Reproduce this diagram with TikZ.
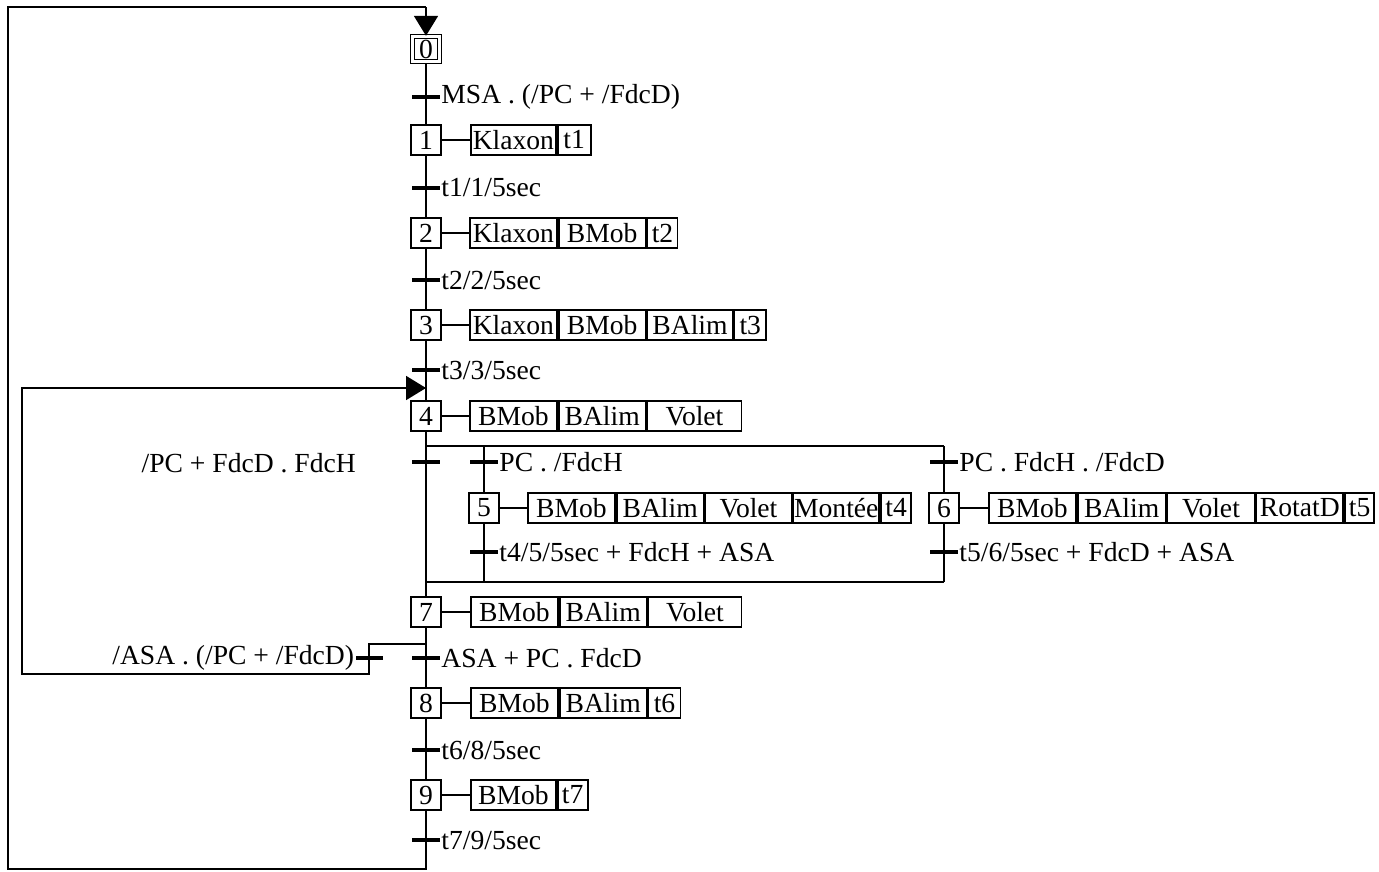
\documentclass[tikz,border=0pt]{standalone}
\usepackage{fontspec}
\setmainfont{Liberation Serif}
\usetikzlibrary{arrows.meta}
\begin{document}
\begin{tikzpicture}[x=1pt,y=-1pt,
  every node/.style={font=\fontsize{27.6}{32}\selectfont},
  ln/.style={line width=1.9pt},
  stepbox/.style={draw, line width=1.8pt, minimum width=30pt, minimum height=30pt, inner sep=0pt, fill=white},
  act/.style={draw, line width=1.8pt, minimum height=30pt, inner sep=0pt, anchor=west},
  bar/.style={fill=black, minimum width=28pt, minimum height=4.5pt, inner sep=0pt},
  lbl/.style={anchor=west, inner sep=1pt},
  lbll/.style={anchor=east, inner sep=1pt},
  arr/.style={-{Triangle[length=20pt,width=24pt]}}]
\useasboundingbox (0,0) rectangle (1379,871);

% coordinates
\coordinate (o1) at (426,869);
\coordinate (o2) at (8,869);
\coordinate (o3) at (8,7);
\coordinate (o4) at (426,7);
\coordinate (d4) at (426,446);
\coordinate (d5) at (484,446);
\coordinate (d6) at (944,446);
\coordinate (c4) at (426,582);
\coordinate (c5) at (484,582);
\coordinate (c6) at (944,582);
\coordinate (r1) at (426,644);
\coordinate (r2) at (369,644);
\coordinate (r3) at (369,674);
\coordinate (r4) at (22,674);
\coordinate (r5) at (22,388);
\coordinate (r6) at (426,388);

% connectors (drawn first, steps on top)
\draw[ln] (426,49) -- (426,140);
\draw[ln] (426,140) -- (426,233);
\draw[ln] (426,233) -- (426,325);
\draw[ln] (426,325) -- (426,416);
\draw[ln] (426,416) -- (426,612);
\draw[ln] (426,612) -- (426,703);
\draw[ln] (426,703) -- (426,795);
\draw[ln] (426,795) -- (o1) -- (o2) -- (o3) -- (o4);
\draw[ln] (d4) -- (d6);
\draw[ln] (d5) -- (c5);
\draw[ln] (d6) -- (c6);
\draw[ln] (c4) -- (c6);
\draw[ln] (r1) -- (r2) -- (r3) -- (r4) -- (r5) -- (r6);

% steps
\node[stepbox, double, double distance=2.5pt, line width=1.4pt, minimum width=27pt, minimum height=25pt] (s0) at (426,49) {0};
\node[stepbox] (s1) at (426,140) {1};
\node[stepbox] (s2) at (426,233) {2};
\node[stepbox] (s3) at (426,325) {3};
\node[stepbox] (s4) at (426,416) {4};
\node[stepbox] (s5) at (484,508) {5};
\node[stepbox] (s6) at (944,508) {6};
\node[stepbox] (s7) at (426,612) {7};
\node[stepbox] (s8) at (426,703) {8};
\node[stepbox] (s9) at (426,795) {9};

% arrows into steps
\draw[ln, arr] (o4) -- (s0.north);
\draw[ln, arr] (r5) -- (r6);

% transitions
\node[bar] (b1) at (426,97) {};
\node[lbl] (l1) at (b1.east) {MSA . (/PC + /FdcD)};
\node[bar] (b2) at (426,188) {};
\node[lbl] (l2) at (b2.east) {t1/1/5sec};
\node[bar] (b3) at (426,280) {};
\node[lbl] (l3) at (b3.east) {t2/2/5sec};
\node[bar] (b4) at (426,370) {};
\node[lbl] (l4) at (b4.east) {t3/3/5sec};
\node[bar] (b5) at (426,462) {};
\node[lbll] (l5) at (357,463) {/PC + FdcD . FdcH};
\node[bar] (b6) at (484,462) {};
\node[lbl] (l6) at (b6.east) {PC . /FdcH};
\node[bar] (b7) at (944,462) {};
\node[lbl] (l7) at (b7.east) {PC . FdcH . /FdcD};
\node[bar] (b8) at (484,552) {};
\node[lbl] (l8) at (b8.east) {t4/5/5sec + FdcH + ASA};
\node[bar] (b9) at (944,552) {};
\node[lbl] (l9) at (b9.east) {t5/6/5sec + FdcD + ASA};
\node[bar] (b10) at (426,658) {};
\node[lbl] (l10) at (b10.east) {ASA + PC . FdcD};
\node[bar, minimum width=27pt] (b11) at (369,658) {};
\node[lbll] (l11) at (b11.west) {/ASA . (/PC + /FdcD)};
\node[bar] (b12) at (426,750) {};
\node[lbl] (l12) at (b12.east) {t6/8/5sec};
\node[bar] (b13) at (426,840) {};
\node[lbl] (l13) at (b13.east) {t7/9/5sec};

% actions step 1
\node[act, minimum width=85pt] (a1a) at (470,140) {Klaxon};
\node[act, minimum width=33pt] (a1b) at (a1a.east) {t1};
\draw[ln] (s1) -- (a1a);
% step 2
\node[act, minimum width=87pt] (a2a) at (469,233) {Klaxon};
\node[act, minimum width=87pt] (a2b) at (a2a.east) {BMob};
\node[act, minimum width=30pt] (a2c) at (a2b.east) {t2};
\draw[ln] (s2) -- (a2a);
% step 3
\node[act, minimum width=87pt] (a3a) at (469,325) {Klaxon};
\node[act, minimum width=87pt] (a3b) at (a3a.east) {BMob};
\node[act, minimum width=85pt] (a3c) at (a3b.east) {BAlim};
\node[act, minimum width=32pt] (a3d) at (a3c.east) {t3};
\draw[ln] (s3) -- (a3a);
% step 4
\node[act, minimum width=87pt] (a4a) at (469,416) {BMob};
\node[act, minimum width=87pt] (a4b) at (a4a.east) {BAlim};
\node[act, minimum width=94pt] (a4c) at (a4b.east) {Volet};
\draw[ln] (s4) -- (a4a);
% step 5
\node[act, minimum width=87pt] (a5a) at (527,508) {BMob};
\node[act, minimum width=87pt] (a5b) at (a5a.east) {BAlim};
\node[act, minimum width=86pt] (a5c) at (a5b.east) {Volet};
\node[act, minimum width=86pt] (a5d) at (a5c.east) {Montée};
\node[act, minimum width=30pt] (a5e) at (a5d.east) {t4};
\draw[ln] (s5) -- (a5a);
% step 6
\node[act, minimum width=87pt] (a6a) at (988,508) {BMob};
\node[act, minimum width=88pt] (a6b) at (a6a.east) {BAlim};
\node[act, minimum width=87pt] (a6c) at (a6b.east) {Volet};
\node[act, minimum width=87pt] (a6d) at (a6c.east) {RotatD};
\node[act, minimum width=29pt] (a6e) at (a6d.east) {t5};
\draw[ln] (s6) -- (a6a);
% step 7
\node[act, minimum width=87pt] (a7a) at (470,612) {BMob};
\node[act, minimum width=87pt] (a7b) at (a7a.east) {BAlim};
\node[act, minimum width=93pt] (a7c) at (a7b.east) {Volet};
\draw[ln] (s7) -- (a7a);
% step 8
\node[act, minimum width=87pt] (a8a) at (470,703) {BMob};
\node[act, minimum width=87pt] (a8b) at (a8a.east) {BAlim};
\node[act, minimum width=32pt] (a8c) at (a8b.east) {t6};
\draw[ln] (s8) -- (a8a);
% step 9
\node[act, minimum width=85pt] (a9a) at (470,795) {BMob};
\node[act, minimum width=30pt] (a9b) at (a9a.east) {t7};
\draw[ln] (s9) -- (a9a);
\end{tikzpicture}
\end{document}
